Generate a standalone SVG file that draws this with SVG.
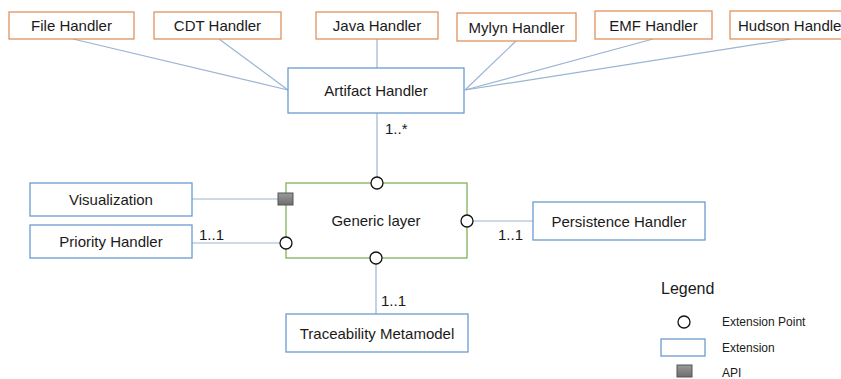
<svg xmlns="http://www.w3.org/2000/svg" width="841" height="379" viewBox="0 0 841 379">
  <defs>
    <linearGradient id="apiFill" x1="0" y1="0" x2="0" y2="1">
      <stop offset="0" stop-color="#9a9a9a"/>
      <stop offset="1" stop-color="#6e6e6e"/>
    </linearGradient>
  </defs>
  <style>
    text { font-family: "Liberation Sans", Arial, sans-serif; fill: #1a1a1a; }
    .lbl { font-size: 15px; text-anchor: middle; }
    .mult { font-size: 15px; }
    .handler { fill: #ffffff; stroke: #e0935f; stroke-width: 1.3; }
    .ext { fill: #ffffff; stroke: #6b9bcf; stroke-width: 1.3; }
    .layer { fill: #ffffff; stroke: #7fb35a; stroke-width: 1.3; }
    .conn { stroke: #9ab4d3; stroke-width: 1.2; fill: none; }
    .port { fill: #ffffff; stroke: #111111; stroke-width: 1.3; }
    .api { fill: url(#apiFill); stroke: #555555; stroke-width: 1; }
    .legend { font-size: 12px; }
  </style>

  <!-- connectors -->
  <g id="connectors">
    <line class="conn" x1="73" y1="39" x2="288" y2="90"/>
    <line class="conn" x1="219" y1="39" x2="288" y2="90"/>
    <line class="conn" x1="377" y1="39" x2="377" y2="68"/>
    <line class="conn" x1="516" y1="41" x2="465" y2="90"/>
    <line class="conn" x1="653" y1="39" x2="465" y2="90"/>
    <line class="conn" x1="791" y1="39" x2="465" y2="90"/>
    <line class="conn" x1="377" y1="113" x2="377" y2="177"/>
    <line class="conn" x1="192" y1="199" x2="278" y2="199"/>
    <line class="conn" x1="192" y1="243" x2="280" y2="243"/>
    <line class="conn" x1="473" y1="221" x2="533" y2="221"/>
    <line class="conn" x1="376" y1="264" x2="376" y2="314"/>
    <text class="mult" x="385" y="134">1..*</text>
    <text class="mult" x="199" y="240">1..1</text>
    <text class="mult" x="498" y="240">1..1</text>
    <text class="mult" x="381" y="306">1..1</text>
  </g>

  <!-- handler plug-ins -->
  <g id="file-handler">
    <rect class="handler" x="9" y="12" width="125" height="27"/>
    <text class="lbl" x="71.5" y="31">File Handler</text>
  </g>
  <g id="cdt-handler">
    <rect class="handler" x="154" y="12" width="127" height="27"/>
    <text class="lbl" x="217.5" y="31">CDT Handler</text>
  </g>
  <g id="java-handler">
    <rect class="handler" x="316" y="12" width="122" height="27"/>
    <text class="lbl" x="377" y="31">Java Handler</text>
  </g>
  <g id="mylyn-handler">
    <rect class="handler" x="457" y="13" width="119" height="28"/>
    <text class="lbl" x="516.5" y="33">Mylyn Handler</text>
  </g>
  <g id="emf-handler">
    <rect class="handler" x="595" y="11" width="117" height="28"/>
    <text class="lbl" x="653.5" y="31">EMF Handler</text>
  </g>
  <g id="hudson-handler">
    <rect class="handler" x="730" y="11" width="120" height="28"/>
    <text x="738" y="31" style="font-size:15px">Hudson Handler</text>
  </g>

  <!-- artifact handler -->
  <g id="artifact-handler">
    <rect class="ext" x="288" y="68" width="176" height="45"/>
    <text class="lbl" x="376" y="96">Artifact Handler</text>
  </g>

  <!-- generic layer with its ports -->
  <g id="generic-layer">
    <rect class="layer" x="286" y="183" width="181" height="75"/>
    <text class="lbl" x="376" y="226">Generic layer</text>
    <circle class="port" cx="377" cy="183" r="6"/>
    <circle class="port" cx="376" cy="258" r="6"/>
    <circle class="port" cx="286" cy="243" r="6"/>
    <circle class="port" cx="467" cy="221" r="6"/>
    <rect class="api" x="278" y="193" width="15" height="12"/>
  </g>

  <g id="visualization">
    <rect class="ext" x="30" y="183" width="162" height="33"/>
    <text class="lbl" x="111" y="205">Visualization</text>
  </g>
  <g id="priority-handler">
    <rect class="ext" x="30" y="225" width="162" height="33"/>
    <text class="lbl" x="111" y="247">Priority Handler</text>
  </g>
  <g id="persistence-handler">
    <rect class="ext" x="533" y="202" width="172" height="38"/>
    <text class="lbl" x="619" y="227">Persistence Handler</text>
  </g>
  <g id="traceability-metamodel">
    <rect class="ext" x="286" y="314" width="182" height="38"/>
    <text class="lbl" x="377" y="339">Traceability Metamodel</text>
  </g>

  <!-- legend -->
  <g id="legend">
    <text x="661" y="294" style="font-size:16px">Legend</text>
    <circle class="port" cx="684" cy="322" r="6"/>
    <text class="legend" x="722" y="326">Extension Point</text>
    <rect class="ext" x="661" y="339" width="44" height="17"/>
    <text class="legend" x="722" y="352">Extension</text>
    <rect class="api" x="677" y="365" width="15" height="12"/>
    <text class="legend" x="722" y="377">API</text>
  </g>
</svg>
